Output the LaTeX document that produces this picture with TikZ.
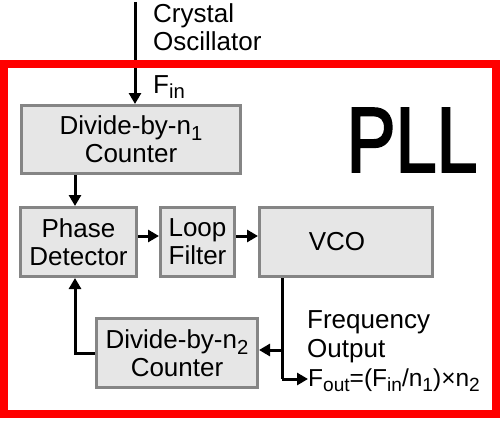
\documentclass[tikz,border=0pt]{standalone}
\usepackage{fontspec}
\setmainfont{Liberation Sans}
\newfontfamily\pllfont[FakeBold=2.5]{Liberation Sans}
\usetikzlibrary{arrows.meta,calc}
\newcommand{\lsub}[1]{\raisebox{-0.22em}{\scalebox{0.78}{#1}}}
\definecolor{boxfill}{HTML}{E6E6E6}
\definecolor{boxline}{HTML}{858585}
\definecolor{frame}{HTML}{FF0000}
\tikzset{
  blk/.style={draw=boxline, fill=boxfill, line width=3pt, inner sep=0pt, align=center,
              font=\fontsize{26}{28}\selectfont},
  arr/.style={line width=3pt, -{Triangle[length=11pt,width=12pt]}},
  ln/.style={line width=3pt},
  lbl/.style={inner sep=0pt, align=left, font=\fontsize{26}{28}\selectfont},
}
\begin{document}
\begin{tikzpicture}[x=1pt,y=-1pt]
\useasboundingbox (0,0) rectangle (500,420);
\fill[white] (0,0) rectangle (500,420);

% blocks
\node[blk, minimum width=219pt, minimum height=68pt] (d1) at (131,139.5) {Divide-by-n\lsub{1}\\Counter};
\node[blk, minimum width=116pt, minimum height=69pt] (pd) at (78.5,242) {Phase\\Detector};
\node[blk, minimum width=74pt, minimum height=69pt] (lf) at (197.5,242) {Loop\\Filter};
\node[blk, minimum width=173pt, minimum height=69pt] (vco) at (346,242) {VCO\hspace{18pt}};
\node[blk, minimum width=161pt, minimum height=69pt] (d2) at (177,353) {Divide-by-n\lsub{2}\\Counter};

% labels
\node[lbl, anchor=base west] (xo1) at (153,23) {Crystal};
\node[lbl, anchor=base west] (xo2) at (153,50) {Oscillator};
\node[lbl, anchor=base west] (fin) at (153,93) {F\lsub{in}};
\node[inner sep=0pt, anchor=center, font=\pllfont\fontsize{92}{92}\selectfont] (pll) at (412,140) {\scalebox{0.8}[1]{PLL}};
\node[lbl, anchor=base west] (fo1) at (307,328) {Frequency};
\node[lbl, anchor=base west] (fo2) at (307,357) {Output};
\node[inner sep=0pt, anchor=base west, font=\fontsize{24.5}{26}\selectfont] (fout) at (308,386)
  {F\lsub{out}=(F\lsub{in}/n\lsub{1})\texttimes n\lsub{2}};

% coordinates
\coordinate (src) at (135,2);
\coordinate (br) at (282,350);
\coordinate (fo) at (282,379);
\coordinate (fb) at (75,353);

% connectors
\draw[arr] (src) -- (src |- d1.north);
\draw[arr] (75,0 |- d1.south) -- (75,0 |- pd.north);
\draw[arr] ([yshift=6pt]pd.east) -- ([yshift=6pt]lf.west);
\draw[arr] ([yshift=6pt]lf.east) -- ([yshift=6pt]vco.west);
\draw[ln] (vco.south -| br) -- (fo);
\draw[arr] (fo) -- (fout.west |- fo);
\draw[arr] (br) -- (d2.east |- br);
\draw[arr] (d2.west |- fb) -- (fb) -- (fb |- pd.south);

% frame
\draw[frame, line width=8pt] (4,64) rectangle (496,414);
\end{tikzpicture}
\end{document}
